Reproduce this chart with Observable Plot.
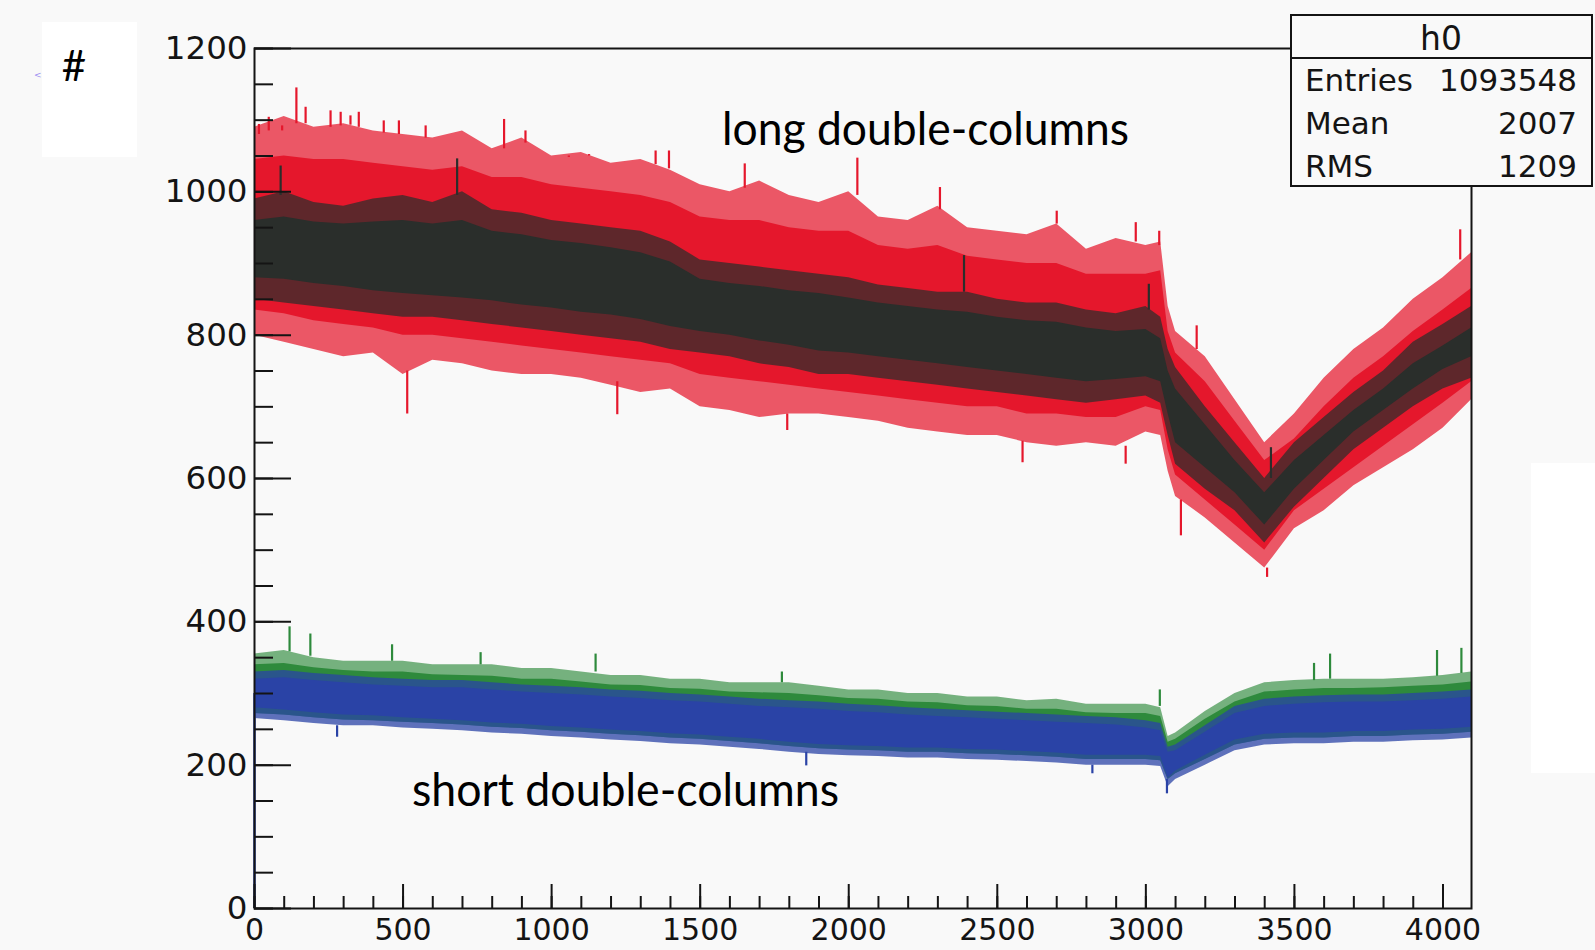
<!DOCTYPE html>
<html>
<head>
<meta charset="utf-8">
<script src="https://cdn.jsdelivr.net/npm/d3@7"></script>
<script src="https://cdn.jsdelivr.net/npm/@observablehq/plot@0.6"></script>
<style>
  html, body { margin: 0; padding: 0; background: #f9f9f9; }
  #wrap { position: relative; width: 1595px; height: 950px; overflow: hidden; background: #f9f9f9; }
  #chart { position: absolute; left: 0; top: 0; }
  #overlay { position: absolute; left: 0; top: 0; pointer-events: none; }
</style>
</head>
<body>
<div id="wrap">
  <div id="chart"></div>
  <svg id="overlay" width="1595" height="950"></svg>
</div>
<script>
// ---------- data ----------
const channels = [0,100,200,300,400,500,600,700,800,900,1000,1100,1200,1300,1400,1500,1600,1700,1800,1900,2000,2100,2200,2300,2400,2500,2600,2700,2800,2900,3000,3050,3075,3100,3200,3300,3400,3500,3600,3700,3800,3900,4000,4096];

// long double-columns, red: outer = spike extent, inner = dense body
const redOuterUpper = [1090,1105,1090,1095,1085,1080,1075,1085,1060,1075,1050,1055,1040,1045,1030,1010,1000,1015,995,985,1000,965,960,980,950,945,940,955,920,935,925,930,840,805,770,710,650,690,740,780,810,850,880,915];
const redInnerUpper = [1045,1050,1045,1045,1040,1035,1030,1035,1020,1020,1010,1005,1000,995,985,965,960,960,950,945,945,925,920,925,910,905,900,900,885,885,885,890,805,775,735,680,625,655,700,740,770,805,835,865];
const redInnerLower = [835,830,820,815,810,800,800,795,790,785,780,775,770,765,760,745,740,735,730,725,720,715,710,705,700,700,690,690,685,685,700,695,640,605,570,535,500,555,585,615,645,675,705,735];
const redOuterLower = [800,790,780,770,775,745,765,760,750,745,745,740,730,720,725,700,695,685,690,690,685,680,670,665,660,660,650,645,650,645,665,660,610,575,545,510,475,530,555,590,615,640,670,710];
// long double-columns, black
const blackOuterUpper = [990,1000,985,980,990,995,985,1000,975,970,960,955,950,945,930,905,900,895,890,885,880,870,865,860,860,850,845,845,835,830,840,825,780,755,700,650,600,650,685,720,750,790,815,840];
const blackInnerUpper = [960,965,958,955,958,960,955,960,945,940,932,928,922,915,902,878,872,868,862,858,852,845,840,835,832,825,820,818,810,805,808,795,750,725,675,625,580,625,660,695,725,760,785,810];
const blackInnerLower = [880,878,872,868,862,858,855,852,848,842,838,832,828,822,812,805,800,792,786,778,775,770,765,760,755,750,745,740,735,738,742,735,690,650,615,580,535,585,625,665,695,725,752,770];
const blackOuterLower = [850,845,840,835,830,825,825,820,815,810,805,800,795,790,780,775,770,760,755,745,745,740,735,730,725,720,715,710,705,710,715,705,660,620,585,555,510,560,600,640,670,700,725,740];

// short double-columns, green
const greenOuterUpper = [355,360,350,345,345,345,340,340,340,335,335,330,325,325,320,320,315,315,315,310,305,305,300,300,295,295,290,292,285,285,285,280,240,245,275,300,315,318,320,320,320,322,325,330];
const greenInnerUpper = [340,342,336,332,330,330,326,325,324,320,320,316,312,311,307,306,302,301,300,297,293,292,288,287,283,282,278,278,273,272,272,268,232,236,264,288,302,305,307,307,308,310,312,316];
const greenLower      = [272,270,266,263,262,260,258,256,253,251,248,246,243,241,238,236,233,230,226,223,221,220,218,218,216,215,213,211,208,208,208,206,180,188,208,228,236,238,238,240,240,242,243,246];
// short double-columns, blue
const blueOuterUpper = [330,332,328,325,322,320,318,318,315,312,310,308,305,303,300,298,295,292,290,288,285,283,280,278,276,274,272,270,268,266,262,258,225,228,255,282,292,295,297,298,298,300,302,305];
const blueInnerUpper = [320,322,318,315,312,310,308,308,305,302,300,298,295,293,290,288,285,282,280,278,275,273,270,268,266,264,262,260,258,256,252,248,218,220,246,272,282,285,287,288,288,290,292,295];
const blueInnerLower = [280,277,273,270,269,266,264,262,259,257,254,252,249,247,244,242,239,236,232,229,227,226,224,224,222,221,219,217,214,214,214,212,182,192,214,235,243,245,245,247,247,249,250,253];
const blueOuterLower = [265,262,258,255,255,252,250,248,245,243,240,238,235,233,230,228,225,222,218,215,213,212,210,210,208,207,205,203,200,200,200,198,170,180,200,220,228,230,230,232,232,234,235,238];

// individual spikes: channel, band edge, spike tip
const redSpikeCh    = [15,48,93,141,172,256,290,323,351,435,486,576,840,912,1058,1126,1350,1395,1650,2029,2307,2700,2966,3045,3171,4058, 514,1221,1793,2585,2932,3118,3408];
const redSpikeBase  = [1080,1085,1085,1095,1095,1090,1092,1093,1090,1082,1080,1075,1060,1068,1048,1050,1038,1032,1005,995,975,955,930,925,780,905, 750,735,690,652,645,570,475];
const redSpikeTip   = [1094,1104,1092,1145,1118,1113,1111,1106,1111,1099,1099,1092,1101,1085,1050,1052,1057,1057,1039,1047,1006,973,957,945,813,947, 690,689,667,622,620,520,462];
const blackSpikeCh   = [88,682,2388,3010,3421];
const blackSpikeBase = [995,995,860,835,600];
const blackSpikeTip  = [1036,1046,911,871,643];
const greenSpikeCh   = [118,188,463,761,1148,1775,3047,3566,3620,3980,4062];
const greenSpikeBase = [358,352,345,340,330,315,282,318,320,324,328];
const greenSpikeTip  = [393,383,368,357,355,330,305,342,355,360,363];
const blueSpikeCh    = [278,1857,2820,3071];
const blueSpikeBase  = [255,218,200,180];
const blueSpikeTip   = [239,199,188,160];
const blueEdgeCh = [0];
const blueEdgeTop = [300];

const yMajor = [0,200,400,600,800,1000,1200];
const yMinor = d3.range(0, 1201, 50);
const xMajor = [0,500,1000,1500,2000,2500,3000,3500,4000];
const xMinor = d3.range(0, 4001, 100);

const statsName = "h0";
const statsLabels = ["Entries","Mean","RMS"];
const statsValues = ["1093548","2007","1209"];

// ---------- styles ----------
const RED = "#e5172c", BLACK = "#2a2e2b", GREEN = "#2e8a3c", BLUE = "#2a43a6", INK = "#141414";
const W = 1595, H = 950, ML = 254, MR = 124, MT = 48, MB = 42;
const PW = W - ML - MR, PH = H - MT - MB;

const rows = channels.map((c, i) => ({
  c,
  rou: redOuterUpper[i], riu: redInnerUpper[i], ril: redInnerLower[i], rol: redOuterLower[i],
  kou: blackOuterUpper[i], kiu: blackInnerUpper[i], kil: blackInnerLower[i], kol: blackOuterLower[i],
  gou: greenOuterUpper[i], giu: greenInnerUpper[i], gl: greenLower[i],
  bou: blueOuterUpper[i], biu: blueInnerUpper[i], bil: blueInnerLower[i], bol: blueOuterLower[i]
}));
const spikes = (ch, base, tip) => ch.map((c, i) => ({c, base: base[i], tip: tip[i]}));
const redSp = spikes(redSpikeCh, redSpikeBase, redSpikeTip);
const blackSp = spikes(blackSpikeCh, blackSpikeBase, blackSpikeTip);
const greenSp = spikes(greenSpikeCh, greenSpikeBase, greenSpikeTip);
const blueSp = spikes(blueSpikeCh, blueSpikeBase, blueSpikeTip);
const blueEdge = blueEdgeCh.map((c, i) => ({c, base: 0, tip: blueEdgeTop[i]}));

const band = (y1, y2, color, opacity) =>
  Plot.areaY(rows, {x: "c", y1, y2, fill: color, fillOpacity: opacity, curve: "linear"});

const chart = Plot.plot({
  width: W, height: H,
  marginLeft: ML, marginRight: MR, marginTop: MT, marginBottom: MB,
  x: {domain: [0, 4096]},
  y: {domain: [0, 1200]},
  style: {background: "transparent", fontFamily: "'DejaVu Sans', sans-serif", fontSize: "32.5px", color: INK},
  marks: [
    band("rol", "rou", RED, 0.72),
    band("ril", "riu", RED, 1),
    Plot.ruleX(redSp, {x: "c", y1: "base", y2: "tip", stroke: RED, strokeWidth: 2.2}),
    band("kol", "kou", BLACK, 0.72),
    band("kil", "kiu", BLACK, 1),
    Plot.ruleX(blackSp, {x: "c", y1: "base", y2: "tip", stroke: BLACK, strokeWidth: 2.2}),
    band("gl", "gou", GREEN, 0.65),
    band("gl", "giu", GREEN, 1),
    Plot.ruleX(greenSp, {x: "c", y1: "base", y2: "tip", stroke: GREEN, strokeWidth: 2.2}),
    band("bol", "bou", BLUE, 0.75),
    band("bil", "biu", BLUE, 1),
    Plot.ruleX(blueSp, {x: "c", y1: "base", y2: "tip", stroke: BLUE, strokeWidth: 2.2}),
    Plot.ruleX(blueEdge, {x: "c", y1: "base", y2: "tip", stroke: BLUE, strokeWidth: 2.5}),
    Plot.frame({stroke: INK, strokeWidth: 2}),
    Plot.tickY(yMajor, {y: d => d, insetRight: PW - 37, stroke: INK, strokeWidth: 2}),
    Plot.tickY(yMinor, {y: d => d, insetRight: PW - 19, stroke: INK, strokeWidth: 2}),
    Plot.tickX(xMajor, {x: d => d, insetTop: PH - 24, stroke: INK, strokeWidth: 2}),
    Plot.tickX(xMinor, {x: d => d, insetTop: PH - 12, stroke: INK, strokeWidth: 2}),
    Plot.axisY({ticks: yMajor, tickSize: 0, tickPadding: 7, tickFormat: d => String(d), label: null, fill: INK}),
    Plot.axisX({ticks: xMajor, tickSize: 0, tickPadding: 10, tickFormat: d => String(d), label: null, fill: INK, fontSize: 30})
  ]
});
document.getElementById("chart").appendChild(chart);

// ---------- overlay: stats box, labels ----------
const ov = d3.select("#overlay");
// white patches of the scanned page
ov.append("rect").attr("x", 1531).attr("y", 463).attr("width", 64).attr("height", 310).attr("fill", "#ffffff");
ov.append("rect").attr("x", 42).attr("y", 22).attr("width", 95).attr("height", 135).attr("fill", "#ffffff");
ov.append("text").attr("x", 74).attr("y", 81).attr("text-anchor", "middle")
  .attr("font-family", "Lato, sans-serif").attr("font-size", 42).attr("fill", "#000").text("#");
ov.append("text").attr("x", 34).attr("y", 78)
  .attr("font-family", "'DejaVu Sans', sans-serif").attr("font-size", 9).attr("fill", "#9c8ef2").text("<");

// annotations
ov.append("text").attr("x", 722).attr("y", 145).attr("textLength", 407).attr("lengthAdjust", "spacingAndGlyphs")
  .attr("font-family", "Lato, sans-serif").attr("font-size", 47).attr("fill", "#000").text("long double-columns");
ov.append("text").attr("x", 412).attr("y", 806).attr("textLength", 427).attr("lengthAdjust", "spacingAndGlyphs")
  .attr("font-family", "Lato, sans-serif").attr("font-size", 47).attr("fill", "#000").text("short double-columns");

// stats box
const sb = ov.append("g").attr("font-family", "'DejaVu Sans', sans-serif").attr("fill", INK);
sb.append("rect").attr("x", 1291).attr("y", 15).attr("width", 301).attr("height", 171)
  .attr("fill", "#f9f9f9").attr("stroke", INK).attr("stroke-width", 2);
sb.append("line").attr("x1", 1291).attr("x2", 1592).attr("y1", 58).attr("y2", 58).attr("stroke", INK).attr("stroke-width", 2);
sb.append("text").attr("x", 1441).attr("y", 50).attr("text-anchor", "middle").attr("font-size", 33).text(statsName);
const rowBase = [91, 134, 177];
statsLabels.forEach((lab, i) => {
  sb.append("text").attr("x", 1305).attr("y", rowBase[i]).attr("font-size", 31).text(lab);
  sb.append("text").attr("x", 1577).attr("y", rowBase[i]).attr("text-anchor", "end").attr("font-size", 31).text(statsValues[i]);
});
</script>
</body>
</html>
